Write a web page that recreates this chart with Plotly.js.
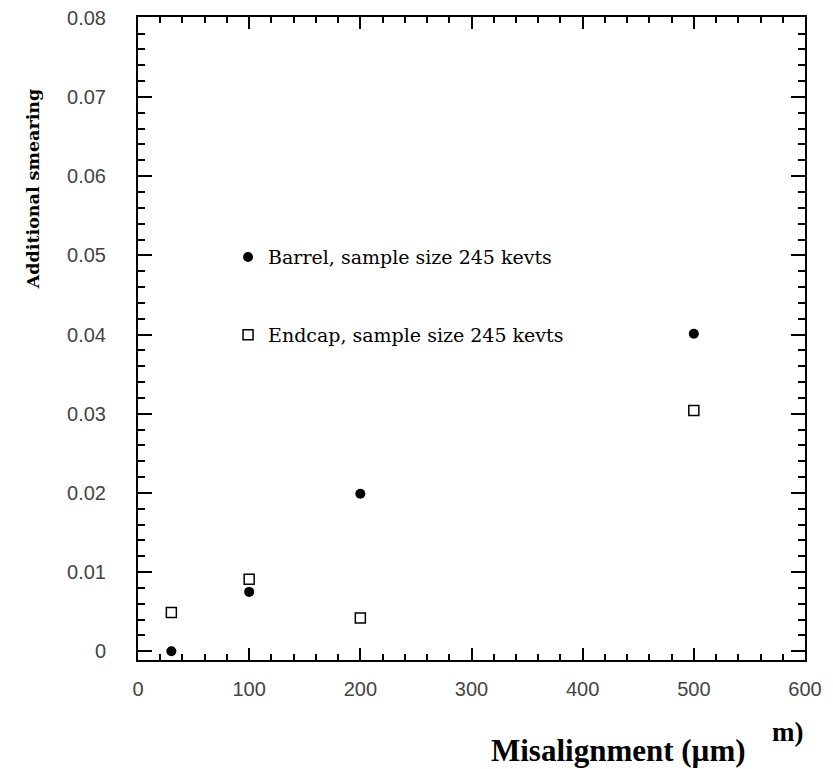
<!DOCTYPE html>
<html>
<head>
<meta charset="utf-8">
<script src="https://cdn.plot.ly/plotly-3.0.1.min.js"></script>
<style>html,body{margin:0;padding:0;background:#fff;}#chart{width:833px;height:769px;}</style>
</head>
<body>
<div id="chart"></div>
<script>
const misalignment = [30, 100, 200, 500];
const barrelSmearing = [0.0, 0.0075, 0.0199, 0.0401];
const endcapSmearing = [0.0049, 0.0091, 0.0042, 0.0304];
const barrelName = 'Barrel, sample size 245 kevts';
const endcapName = 'Endcap, sample size 245 kevts';
const xTitle = 'Misalignment (\u00b5m)';
const yTitle = 'Additional smearing';

const traces = [
  {x: misalignment, y: barrelSmearing, name: barrelName, type: 'scatter', mode: 'markers',
   legendgroup: 'b', marker: {symbol: 'circle', size: 10, color: '#000'}},
  {x: misalignment, y: endcapSmearing, name: endcapName, type: 'scatter', mode: 'markers',
   legendgroup: 'e', marker: {symbol: 'square-open', size: 10, color: '#000', line: {width: 1.5, color: '#000'}}}
];

const tickFont = {family: 'Liberation Sans', size: 20, color: '#444'};
const layout = {
  width: 833, height: 769,
  margin: {l: 138, r: 28, t: 17, b: 109},
  paper_bgcolor: '#fff', plot_bgcolor: '#fff',
  showlegend: true,
  legend: {x: 0.135, y: 0.656, xanchor: 'left', yanchor: 'top', bgcolor: 'rgba(0,0,0,0)',
           font: {family: 'DejaVu Serif', size: 19, color: '#000'}, tracegroupgap: 50,
           traceorder: 'grouped'},
  xaxis: {range: [0, 600], dtick: 100, tick0: 0, ticks: 'inside', ticklen: 12, tickwidth: 2,
          tickcolor: '#000', showline: true, linewidth: 2, linecolor: '#000', mirror: 'ticks',
          showgrid: false, zeroline: false, tickfont: tickFont, ticklabelstandoff: 10,
          minor: {dtick: 20, ticks: 'inside', ticklen: 6, tickwidth: 2, tickcolor: '#000', showgrid: false}},
  yaxis: {range: [-0.0011, 0.0801], dtick: 0.01, tick0: 0, ticks: 'inside', ticklen: 14, tickwidth: 2,
          tickcolor: '#000', showline: true, linewidth: 2, linecolor: '#000', mirror: 'ticks',
          showgrid: false, zeroline: false, tickfont: tickFont, ticklabelstandoff: 26,
          minor: {dtick: 0.002, ticks: 'inside', ticklen: 7, tickwidth: 2, tickcolor: '#000', showgrid: false}},
  annotations: [
    {text: '<b>' + yTitle + '</b>', xref: 'paper', yref: 'paper', x: -0.157, y: 0.7325,
     xanchor: 'center', yanchor: 'middle',
     showarrow: false, textangle: -90, font: {family: 'DejaVu Serif', size: 17.5, color: '#000'}},
    {text: '<b>' + xTitle + '</b>', xref: 'paper', yref: 'paper', x: 0.7204, y: -0.140,
     showarrow: false, xanchor: 'center', yanchor: 'middle',
     font: {family: 'Liberation Serif', size: 31, color: '#000'}},
    {text: '<b>m)</b>', xref: 'paper', yref: 'paper', x: 0.9745, y: -0.112,
     showarrow: false, xanchor: 'center', yanchor: 'middle',
     font: {family: 'Liberation Serif', size: 27, color: '#000'}}
  ]
};
Plotly.newPlot('chart', traces, layout, {displayModeBar: false, staticPlot: true});
</script>
</body>
</html>
